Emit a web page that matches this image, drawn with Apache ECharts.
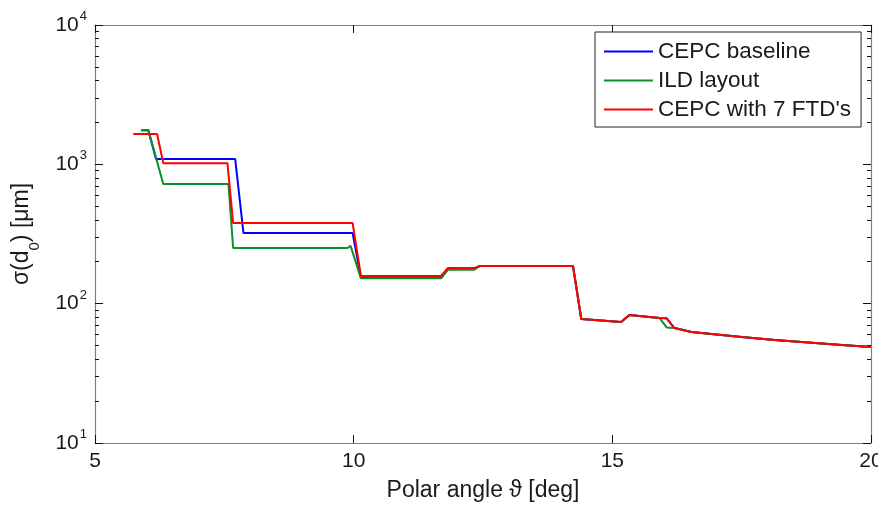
<!DOCTYPE html>
<html>
<head>
<meta charset="utf-8">
<script src="https://cdn.jsdelivr.net/npm/echarts@6/dist/echarts.min.js"></script>
<style>
html,body{margin:0;padding:0;background:#fff;}
#chart{width:878px;height:505px;}
</style>
</head>
<body>
<div id="chart"></div>
<script>
// ---- data ----
const seriesNames = ['CEPC baseline', 'ILD layout', "CEPC with 7 FTD's"];

const thetaBaseline = [5.89, 6.03, 6.18, 7.71, 7.87, 9.98, 10.14, 11.69, 11.82, 12.33, 12.43, 14.24, 14.40, 15.17, 15.33, 15.91, 16.05, 16.20, 16.53, 17.50, 18.14, 19.44, 20.0];
const sigmaBaseline = [1760, 1760, 1092, 1092, 321, 321, 154, 154, 178, 178, 186, 186, 77.6, 73.8, 83, 79, 78.5, 66.8, 62.7, 57.7, 54.9, 50.5, 48.9];

const thetaILD = [5.89, 6.03, 6.32, 7.58, 7.67, 9.88, 9.94, 10.14, 11.69, 11.82, 12.33, 12.43, 14.24, 14.40, 15.17, 15.33, 15.91, 16.05, 16.20, 16.53, 17.50, 18.14, 19.44, 20.0];
const sigmaILD = [1760, 1760, 723, 723, 251, 251, 260, 152, 152, 175, 175, 186, 186, 77.6, 73.8, 83, 79, 67.5, 66.8, 62.7, 57.7, 54.9, 50.5, 48.9];

const thetaFTD = [5.74, 6.20, 6.32, 7.56, 7.67, 9.98, 10.14, 11.69, 11.82, 12.33, 12.43, 14.24, 14.40, 15.17, 15.33, 15.91, 16.05, 16.20, 16.53, 17.50, 18.14, 19.44, 20.0];
const sigmaFTD = [1650, 1650, 1020, 1020, 379, 379, 158, 158, 180, 180, 186, 186, 77.6, 73.8, 83, 79, 78.5, 66.8, 62.7, 57.7, 54.9, 50.5, 48.9];

const xTicks = [5, 10, 15, 20];
const yMajorTicks = [10, 100, 1000, 10000];
const yMinorTicks = [20, 30, 40, 50, 60, 70, 80, 90, 200, 300, 400, 500, 600, 700, 800, 900, 2000, 3000, 4000, 5000, 6000, 7000, 8000, 9000];

const colors = ['#0000ff', '#0a8f2a', '#ff0000'];

function pairs(xs, ys) { return xs.map((x, i) => [x, ys[i]]); }

const frameColor = '#808080';
const tickColor = '#111';
const font = 'Liberation Sans, Arial, sans-serif';

function yAxisBase(position, ticks, len, showLabel, showLine) {
  return {
    type: 'log', logBase: 10, min: 10, max: 10000, position: position,
    axisLine: { show: showLine, lineStyle: { color: frameColor, width: 1.2 } },
    axisTick: { show: true, inside: true, length: len, customValues: ticks, lineStyle: { color: tickColor, width: 1 } },
    axisLabel: showLabel ? {
      show: true, margin: 8, customValues: yMajorTicks,
      formatter: v => '{b|10}{e|' + Math.round(Math.log10(v)) + '}',
      rich: {
        b: { fontSize: 21, fontFamily: font, color: '#1a1a1a', lineHeight: 30 },
        e: { fontSize: 13, fontFamily: font, color: '#1a1a1a', lineHeight: 13, verticalAlign: 'top', padding: [0, 0, 0, 1] }
      }
    } : { show: false },
    splitLine: { show: false }, minorTick: { show: false }, minorSplitLine: { show: false }
  };
}

const chart = echarts.init(document.getElementById('chart'), null, { renderer: 'canvas' });
const option = {
  animation: false,
  backgroundColor: '#fff',
  textStyle: { fontFamily: font },
  grid: { left: 95, top: 25, width: 776, height: 418, containLabel: false, outerBoundsMode: 'none' },
  legend: {
    show: true, orient: 'vertical', left: 595, top: 32,
    data: seriesNames,
    icon: 'rect',
    itemWidth: 49, itemHeight: 2, itemGap: 6,
    padding: [8, 10, 6, 9],
    borderColor: '#222', borderWidth: 1, backgroundColor: '#fff',
    textStyle: { fontSize: 22.5, fontFamily: font, color: '#1a1a1a', lineHeight: 22.5 }
  },
  xAxis: [
    {
      type: 'value', min: 5, max: 20, interval: 5, position: 'bottom',
      name: 'Polar angle \u03d1 [deg]', nameLocation: 'middle', nameGap: 36,
      nameTextStyle: { fontSize: 23, fontFamily: font, color: '#1a1a1a' },
      axisLine: { show: true, lineStyle: { color: frameColor, width: 1.2 } },
      axisTick: { show: true, inside: true, length: 8, lineStyle: { color: tickColor } },
      axisLabel: { show: true, fontSize: 21, fontFamily: font, color: '#1a1a1a', margin: 8, showMaxLabel: true, showMinLabel: true },
      splitLine: { show: false }
    },
    {
      type: 'value', min: 5, max: 20, interval: 5, position: 'top',
      axisLine: { show: true, lineStyle: { color: frameColor, width: 1.2 } },
      axisTick: { show: true, inside: true, length: 8, lineStyle: { color: tickColor } },
      axisLabel: { show: false },
      splitLine: { show: false }
    }
  ],
  yAxis: [
    Object.assign(yAxisBase('left', yMajorTicks, 8, true, true), {
      name: '{t|\u03c3(d}{s|0}{t|) [\u03bcm]}', nameLocation: 'middle', nameGap: 53, nameRotate: 90,
      nameTextStyle: {
        rich: {
          t: { fontSize: 23, fontFamily: font, color: '#1a1a1a', lineHeight: 40 },
          s: { fontSize: 15, fontFamily: font, color: '#1a1a1a', lineHeight: 15, verticalAlign: 'bottom' }
        }
      }
    }),
    yAxisBase('left', yMinorTicks, 4, false, false),
    yAxisBase('right', yMajorTicks, 8, false, true),
    yAxisBase('right', yMinorTicks, 4, false, false)
  ],
  series: [
    { name: seriesNames[0], type: 'line', data: pairs(thetaBaseline, sigmaBaseline), xAxisIndex: 0, yAxisIndex: 0,
      symbol: 'none', lineStyle: { color: colors[0], width: 2 }, itemStyle: { color: colors[0] }, z: 2 },
    { name: seriesNames[1], type: 'line', data: pairs(thetaILD, sigmaILD), xAxisIndex: 0, yAxisIndex: 0,
      symbol: 'none', lineStyle: { color: colors[1], width: 2 }, itemStyle: { color: colors[1] }, z: 3 },
    { name: seriesNames[2], type: 'line', data: pairs(thetaFTD, sigmaFTD), xAxisIndex: 0, yAxisIndex: 0,
      symbol: 'none', lineStyle: { color: colors[2], width: 2 }, itemStyle: { color: colors[2] }, z: 4 }
  ]
};
chart.setOption(option);
</script>
</body>
</html>
